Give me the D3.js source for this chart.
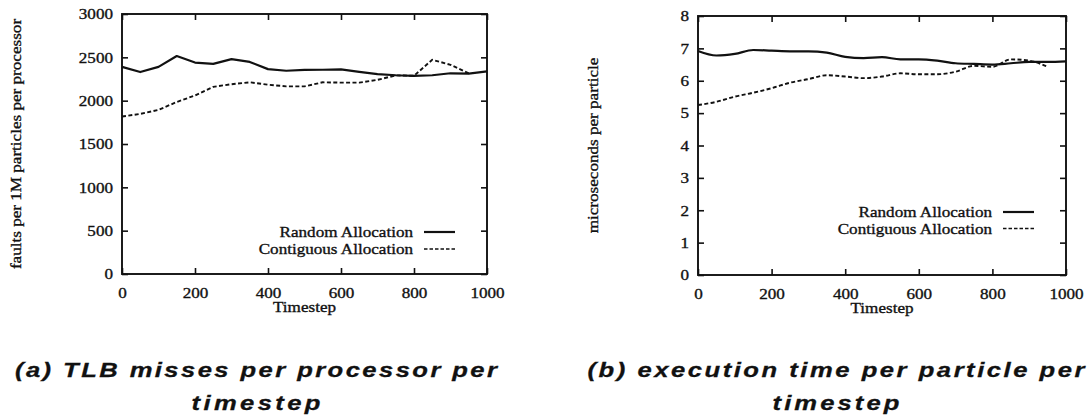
<!DOCTYPE html>
<html>
<head>
<meta charset="utf-8">
<script src="https://cdn.jsdelivr.net/npm/d3@7"></script>
<style>
  html, body { margin: 0; padding: 0; background: #fff; }
  svg { display: block; }
  .serif { font-family: "Liberation Serif", "Times New Roman", serif; fill: #111; stroke: #111; stroke-width: 0.35px; }
  .cap { font-family: "Liberation Sans", Arial, sans-serif; font-weight: bold; font-style: italic; fill: #111; stroke: #111; stroke-width: 0.3px; }
</style>
</head>
<body>
<svg id="fig" width="1091" height="418"></svg>
<script>
// Timesteps sampled every 50 steps
const timesteps = [0, 50, 100, 150, 200, 250, 300, 350, 400, 450, 500,
                   550, 600, 650, 700, 750, 800, 850, 900, 950, 1000];

// (a) TLB faults per 1M particles per processor
const tlbRandom = [2390, 2330, 2390, 2515, 2440, 2425, 2480, 2447, 2364, 2345, 2355,
                   2357, 2362, 2333, 2306, 2293, 2287, 2293, 2316, 2312, 2337];
const tlbContiguous = [1817, 1847, 1894, 1985, 2060, 2160, 2190, 2212, 2184, 2165, 2165,
                       2212, 2208, 2208, 2240, 2292, 2287, 2472, 2414, 2316];

// (b) microseconds per particle
const timeRandom = [6.92, 6.78, 6.83, 6.95, 6.93, 6.91, 6.91, 6.87, 6.74, 6.70, 6.73,
                    6.66, 6.66, 6.62, 6.54, 6.52, 6.50, 6.54, 6.58, 6.58, 6.60];
const timeContiguous = [5.25, 5.35, 5.51, 5.63, 5.77, 5.94, 6.05, 6.17, 6.13, 6.08, 6.13,
                        6.23, 6.20, 6.20, 6.28, 6.46, 6.43, 6.66, 6.62, 6.43];

const xTicks = [0, 200, 400, 600, 800, 1000];
const tlbTicks = [0, 500, 1000, 1500, 2000, 2500, 3000];
const timeTicks = [0, 1, 2, 3, 4, 5, 6, 7, 8];

const seriesNames = ["Random Allocation", "Contiguous Allocation"];
const xLabel = "Timestep";
const tlbYLabel = "faults per 1M particles per processor";
const timeYLabel = "microseconds per particle";
const captionA = ["(a) TLB misses per processor per", "timestep"];
const captionB = ["(b) execution time per particle per", "timestep"];

const svg = d3.select("#fig");
const SX = 1.14;          // horizontal widening of the serif labels
const FS = 15;            // serif label size
const CSX = 1.22;         // horizontal widening of the captions

// Place a widened serif label with its anchor at (x, y)
function stext(g, x, y, str, anchor, rotate) {
  return g.append("text")
    .attr("class", "serif")
    .attr("font-size", FS)
    .attr("text-anchor", anchor || "start")
    .attr("transform", `translate(${x},${y})` + (rotate ? ` rotate(${rotate})` : "") + ` scale(${SX},1)`)
    .text(str);
}

function drawPanel(p) {
  const g = svg.append("g");
  const x = d3.scaleLinear().domain([0, 1000]).range([p.left, p.right]);
  const y = d3.scaleLinear().domain([0, p.yMax]).range([p.bottom, p.top]);
  const tick = 6;
  const fmt = d3.format("d");

  // Frame ticks on all four sides, pointing inward
  const axes = [
    [d3.axisBottom(x).tickValues(xTicks).tickSize(-tick).tickPadding(13).tickFormat(fmt), `translate(0,${p.bottom})`, true],
    [d3.axisTop(x).tickValues(xTicks).tickSize(-tick).tickFormat(""), `translate(0,${p.top})`, false],
    [d3.axisLeft(y).tickValues(p.yTicks).tickSize(-tick).tickPadding(9).tickFormat(fmt), `translate(${p.left},0)`, true],
    [d3.axisRight(y).tickValues(p.yTicks).tickSize(-tick).tickFormat(""), `translate(${p.right},0)`, false]
  ];
  axes.forEach(([ax, tr, labels]) => {
    const a = g.append("g").attr("transform", tr).call(ax);
    a.select(".domain").remove();
    a.selectAll(".tick line").attr("stroke", "#111").attr("stroke-width", 1.6);
    if (labels) {
      a.attr("font-family", null).attr("font-size", null);
      a.selectAll(".tick text")
        .attr("class", "serif")
        .attr("font-size", FS)
        .each(function () {
          const t = d3.select(this);
          const xa = +t.attr("x") || 0;
          t.attr("x", xa / SX).attr("transform", `scale(${SX},1)`);
        });
    }
  });

  // Plot frame
  g.append("rect")
    .attr("x", p.left).attr("y", p.top)
    .attr("width", p.right - p.left).attr("height", p.bottom - p.top)
    .attr("fill", "none").attr("stroke", "#111").attr("stroke-width", 1.9);

  const line = d3.line()
    .x((d, i) => x(timesteps[i]))
    .y(d => y(d))
    .curve(p.curve);

  g.append("path").datum(p.random)
    .attr("d", line).attr("fill", "none")
    .attr("stroke", "#111").attr("stroke-width", 2.2).attr("stroke-linejoin", "round");
  g.append("path").datum(p.contiguous)
    .attr("d", line).attr("fill", "none")
    .attr("stroke", "#111").attr("stroke-width", 1.9).attr("stroke-dasharray", "4,2.4");

  // Legend
  const styles = [{ w: 2.2, dash: null }, { w: 1.7, dash: "3.5,2" }];
  seriesNames.forEach((name, i) => {
    const ly = p.legendY + i * p.legendGap;
    stext(g, p.legendTextX, ly + 5, name, "end");
    g.append("line")
      .attr("x1", p.legendTextX + 11).attr("x2", p.legendTextX + 42)
      .attr("y1", ly).attr("y2", ly)
      .attr("stroke", "#111").attr("stroke-width", styles[i].w)
      .attr("stroke-dasharray", styles[i].dash);
  });

  // Axis titles
  stext(g, (p.left + p.right) / 2, p.bottom + 38, xLabel, "middle");
  stext(g, p.yTitleX, (p.top + p.bottom) / 2, p.yLabel, "middle", -90);

  // Caption
  p.caption.forEach((c, i) => {
    g.append("text")
      .attr("class", "cap")
      .attr("font-size", 21)
      .attr("text-anchor", "middle")
      .attr("transform", `translate(${p.capX},${377 + i * 33}) scale(${CSX},1)`)
      .attr("textLength", p.capLen[i] / CSX)
      .attr("lengthAdjust", "spacing")
      .text(c);
  });
}

drawPanel({
  left: 122, right: 487, top: 14, bottom: 274,
  yMax: 3000, yTicks: tlbTicks,
  random: tlbRandom, contiguous: tlbContiguous,
  curve: d3.curveLinear,
  legendTextX: 413, legendY: 232, legendGap: 17,
  yTitleX: 21, yLabel: tlbYLabel,
  caption: captionA, capX: 256, capLen: [482, 129]
});

drawPanel({
  left: 698, right: 1066, top: 16, bottom: 275,
  yMax: 8, yTicks: timeTicks,
  random: timeRandom, contiguous: timeContiguous,
  curve: d3.curveMonotoneX,
  legendTextX: 992, legendY: 212, legendGap: 16.5,
  yTitleX: 598, yLabel: timeYLabel,
  caption: captionB, capX: 836, capLen: [497, 127]
});
</script>
</body>
</html>
